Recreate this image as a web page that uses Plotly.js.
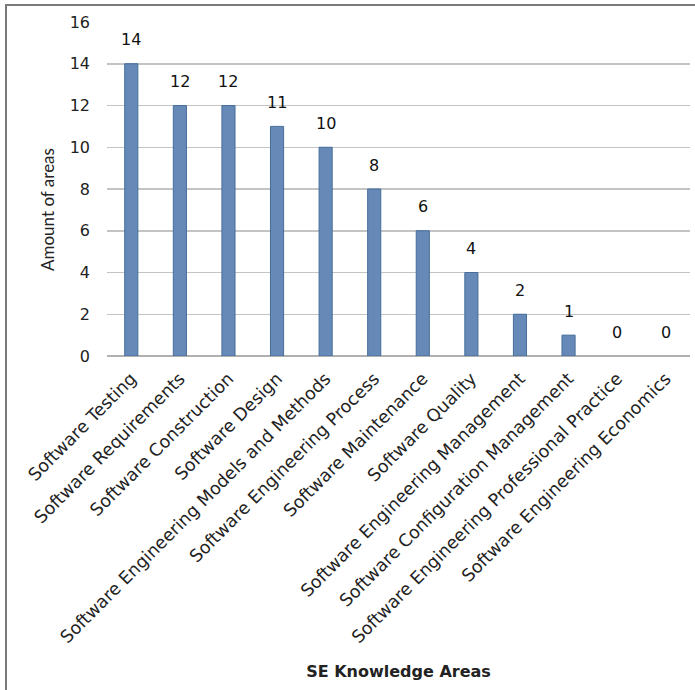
<!DOCTYPE html>
<html>
<head>
<meta charset="utf-8">
<script src="https://cdn.plot.ly/plotly-3.0.1.min.js"></script>
<style>
  html, body { margin: 0; padding: 0; background: #fff; }
  #wrap { position: relative; width: 695px; height: 690px; overflow: hidden; }
  #chart { width: 695px; height: 690px; }
  #frame { position: absolute; left: 5px; top: 4px; width: 700px; height: 700px; border-left: 2px solid #7a7a7a; border-top: 2px solid #7a7a7a; pointer-events: none; }
</style>
</head>
<body>
<div id="wrap">
  <div id="chart"></div>
  <div id="frame"></div>
</div>
<script>
const categories = [
  "Software Testing",
  "Software Requirements",
  "Software Construction",
  "Software Design",
  "Software Engineering Models and Methods",
  "Software Engineering Process",
  "Software Maintenance",
  "Software Quality",
  "Software Engineering Management",
  "Software Configuration Management",
  "Software Engineering Professional Practice",
  "Software Engineering Economics"
];
const amounts = [14, 12, 12, 11, 10, 8, 6, 4, 2, 1, 0, 0];
const yTicks = [0, 2, 4, 6, 8, 10, 12, 14, 16];
const xTitle = "SE Knowledge Areas";
const yTitle = "Amount of areas";

const FONT = "'DejaVu Sans', sans-serif";
const YFONT = "Lato, 'DejaVu Sans', sans-serif";

const trace = {
  type: "bar",
  x: categories,
  y: amounts,
  marker: { color: "#6689b7", line: { color: "#456e9b", width: amounts.map(v => v > 0 ? 1 : 0) } },
  hoverinfo: "x+y"
};

const labelAnnotations = categories.map((c, i) => ({
  x: c, y: amounts[i], xref: "x", yref: "y",
  text: String(amounts[i]), showarrow: false,
  yanchor: "middle", yshift: 24,
  font: { family: FONT, size: 16, color: "#111" }
}));

const layout = {
  width: 695, height: 690,
  margin: { l: 107, r: 5, t: 22, b: 334 },
  paper_bgcolor: "#fff", plot_bgcolor: "#fff",
  showlegend: false,
  bargap: 0.73,
  font: { family: FONT, size: 16, color: "#222" },
  xaxis: {
    type: "category",
    tickangle: -45,
    tickfont: { family: FONT, size: 17.5, color: "#222" },
    ticklabelstandoff: 8,
    showgrid: false,
    showline: false,
    ticks: "",
    automargin: false,
    title: { text: "<b>" + xTitle + "</b>", standoff: 19, font: { family: FONT, size: 16, color: "#222" } }
  },
  yaxis: {
    range: [0, 16],
    tickvals: yTicks,
    ticktext: yTicks.map(String),
    tickfont: { family: FONT, size: 16, color: "#222" },
    showgrid: true, gridcolor: "#c4c4c4", gridwidth: 1.5,
    zeroline: true, zerolinecolor: "#b0b0b0", zerolinewidth: 1.5,
    showline: false, ticks: "",
    ticklabelstandoff: 16,
    automargin: false,
    fixedrange: true
  },
  annotations: labelAnnotations.concat([{
    xref: "paper", yref: "paper",
    x: -0.103, y: 0.44,
    text: yTitle, textangle: -90, showarrow: false,
    xanchor: "center", yanchor: "middle",
    font: { family: YFONT, size: 17, color: "#222" }
  }])
};

Plotly.newPlot("chart", [trace], layout, { displayModeBar: false, staticPlot: true });
</script>
</body>
</html>
